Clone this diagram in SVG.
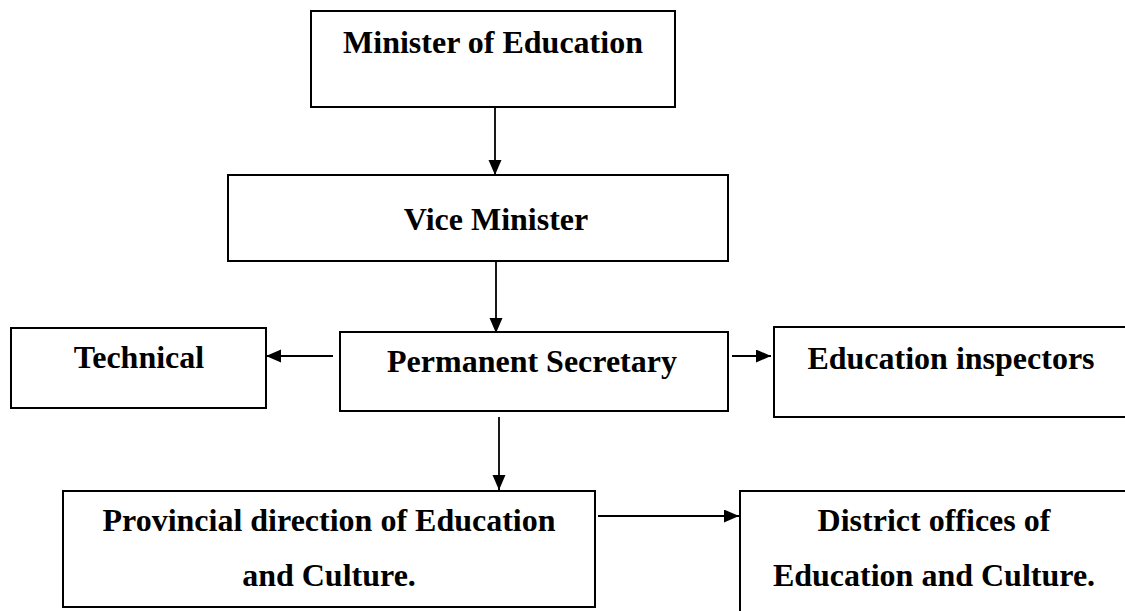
<svg xmlns="http://www.w3.org/2000/svg" width="1125" height="611" viewBox="0 0 1125 611">
<style>
.box{fill:#fff;stroke:#000;stroke-width:2}
.lbl{font-family:"Liberation Serif","Times New Roman",serif;font-weight:bold;font-size:32px;fill:#000;text-anchor:middle}
.conn{stroke:#000;stroke-width:1.8;fill:none;marker-end:url(#ah)}
</style>
<defs>
<marker id="ah" markerUnits="userSpaceOnUse" markerWidth="16" markerHeight="14" refX="15" refY="6.5" orient="auto">
<path d="M0,0 L15,6.5 L0,13 Z" fill="#000"/>
</marker>
</defs>
<rect width="1125" height="611" fill="#fff"/>
<g id="connectors">
<line class="conn" x1="495" y1="107" x2="495" y2="175"/>
<line class="conn" x1="496" y1="261" x2="496" y2="333"/>
<line class="conn" x1="333" y1="356" x2="266" y2="356"/>
<line class="conn" x1="732" y1="356" x2="771" y2="356"/>
<line class="conn" x1="499" y1="417" x2="499" y2="490"/>
<line class="conn" x1="598" y1="516" x2="739" y2="516"/>
</g>
<g id="minister">
<rect class="box" x="311" y="11" width="364" height="96"/>
<text class="lbl" x="493" y="53">Minister of Education</text>
</g>
<g id="vice">
<rect class="box" x="228" y="175" width="500" height="86"/>
<text class="lbl" x="496" y="230">Vice Minister</text>
</g>
<g id="permanent">
<rect class="box" x="340" y="332" width="388" height="79"/>
<text class="lbl" x="532" y="372">Permanent Secretary</text>
</g>
<g id="technical">
<rect class="box" x="11" y="328" width="255" height="80"/>
<text class="lbl" x="139" y="368">Technical</text>
</g>
<g id="inspectors">
<rect class="box" x="774" y="327" width="360" height="90"/>
<text class="lbl" x="951" y="369">Education inspectors</text>
</g>
<g id="provincial">
<rect class="box" x="63" y="491" width="532" height="116"/>
<text class="lbl" x="329" y="531">Provincial direction of Education</text>
<text class="lbl" x="329" y="586">and Culture.</text>
</g>
<g id="district">
<rect class="box" x="740" y="491" width="400" height="130"/>
<text class="lbl" x="934" y="531">District offices of</text>
<text class="lbl" x="934" y="586">Education and Culture.</text>
</g>
</svg>
